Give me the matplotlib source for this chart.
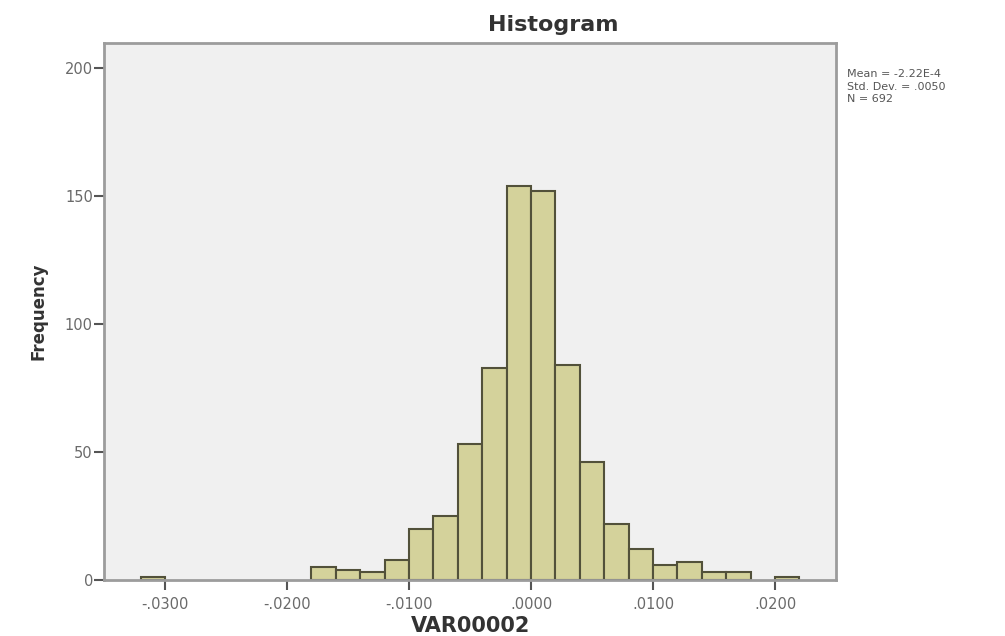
import matplotlib
matplotlib.use("Agg")
import matplotlib.pyplot as plt
import numpy as np

# histogram of VAR00002, bin width .002
bin_start = -0.032
bin_width = 0.002
counts = [1, 0, 0, 0, 0, 0, 0, 5, 4, 3, 8, 20, 25, 53, 83, 154,
          152, 84, 46, 22, 12, 6, 7, 3, 3, 0, 1]
x_ticks = [-0.03, -0.02, -0.01, 0.0, 0.01, 0.02]
x_tick_labels = ["-.0300", "-.0200", "-.0100", ".0000", ".0100", ".0200"]
y_ticks = [0, 50, 100, 150, 200]
stats_lines = ["Mean = -2.22E-4", "Std. Dev. = .0050", "N = 692"]

counts = np.array(counts)
lefts = bin_start + bin_width * np.arange(len(counts))
mask = counts > 0

fig = plt.figure(figsize=(10.05, 6.36), dpi=100)
ax = fig.add_axes([0.1035, 0.0881, 0.7284, 0.8448])
ax.set_facecolor("#f0f0f0")

ax.bar(lefts[mask], counts[mask], width=bin_width, align="edge",
       color="#d4d29b", edgecolor="#52513a", linewidth=1.5)

ax.set_xlim(-0.035, 0.025)
ax.set_ylim(0, 210)
ax.set_xticks(x_ticks)
ax.set_xticklabels(x_tick_labels)
ax.set_yticks(y_ticks)

for s in ax.spines.values():
    s.set_color("#9c9c9c")
    s.set_linewidth(2)

ax.tick_params(axis="both", direction="out", length=7, width=1.5,
               color="#555555", labelcolor="#6a6a6a", labelsize=10.5)
ax.tick_params(axis="y", pad=1)
ax.tick_params(axis="x", pad=5)

fig.text(0.550, 0.960, "Histogram", ha="center", va="center",
         fontsize=16, fontweight="bold", color="#333333")
fig.text(0.468, 0.016, "VAR00002", ha="center", va="center",
         fontsize=15, fontweight="bold", color="#333333")
fig.text(0.038, 0.511, "Frequency", ha="center", va="center",
         rotation=90, fontsize=12, fontweight="bold", color="#333333")

# stats box, one line each
for i, line in enumerate(stats_lines):
    fig.text(0.843, 1 - (74 + 12.5 * i) / 636, line, ha="left", va="center",
             fontsize=8, color="#555555")

fig.savefig("out.png", dpi=100)
